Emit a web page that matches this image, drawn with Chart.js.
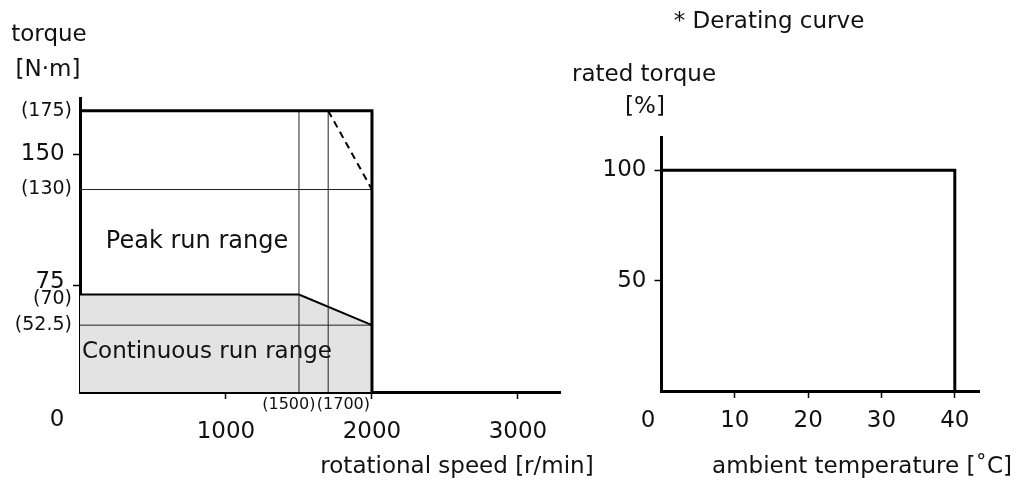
<!DOCTYPE html>
<html>
<head>
<meta charset="utf-8">
<script src="https://cdn.jsdelivr.net/npm/chart.js@4.4.1/dist/chart.umd.min.js"></script>
<style>
  body { margin: 0; background: #fff; }
  #wrap { position: relative; width: 1023px; height: 485px; }
  canvas { position: absolute; top: 0; }
  #torqueChart { left: 0; }
  #deratingChart { left: 560px; }
</style>
</head>
<body>
<div id="wrap">
  <canvas id="torqueChart" width="600" height="485"></canvas>
  <canvas id="deratingChart" width="463" height="485"></canvas>
</div>
<script>
// speed / torque chart
const speedMajor = [1000, 2000, 3000];
const speedNoted = [1500, 1700];
const torqueMajor = [75, 150];
const torqueNoted = [52.5, 70, 130, 175];

const contSpeed = [0, 1500, 2000];
const contTorque = [70, 70, 52.5];
const boxSpeed = [0, 2000, 2000];
const boxTorque = [175, 175, 0];
const dashSpeed = [1700, 2000];
const dashTorque = [175, 130];

// derating curve
const tempTicks = [10, 20, 30, 40];
const pctTicks = [50, 100];
const deratingTemp = [0, 40, 40];
const deratingPct = [100, 100, 0];

const INK = '#111';
Chart.defaults.font.family = '"DejaVu Sans", sans-serif';
Chart.defaults.color = INK;
Chart.defaults.elements.point.radius = 0;
Chart.defaults.elements.line.tension = 0;

const pts = (xs, ys) => xs.map((x, i) => ({ x: x, y: ys[i] }));
const last = a => a[a.length - 1];
const hidden = 'rgba(0,0,0,0)';

// free text drawn on top (axis captions, region names)
const textPlugin = {
    id: 'texts',
    afterDraw(chart, args, opts) {
        const ctx = chart.ctx;
        ctx.save();
        ctx.fillStyle = INK;
        ctx.textAlign = 'center';
        ctx.textBaseline = 'middle';
        opts.items.forEach(t => {
            ctx.font = (t.size || 23) + 'px "DejaVu Sans"';
            ctx.fillText(t.text, t.x, t.y);
        });
        ctx.restore();
    }
};

const isMajor = (list, c) => c.tick && list.includes(c.tick.value);

const maxTorque = Math.max(...boxTorque);
const edgeSpeed = last(boxSpeed);

// thin guide lines at the bracketed values
const guides = [
    ...speedNoted.map(s => pts([s, s], [0, maxTorque])),
    pts([0, edgeSpeed], [last(dashTorque), last(dashTorque)]),
    pts([0, edgeSpeed], [last(contTorque), last(contTorque)])
].map(d => ({ data: d, borderColor: '#222', borderWidth: 1, order: 5 }));

// 75 and (70) sit too close on the axis: push their labels apart a little (px of line height)
const nudgeUp = { 75: 8 };
const nudgeDown = { 70: 9 };

new Chart(document.getElementById('torqueChart'), {
    type: 'line',
    data: {
        datasets: [
            { data: pts(contSpeed, contTorque), fill: 'start', backgroundColor: '#e3e3e3',
              borderColor: '#000', borderWidth: 2, order: 10 },
            ...guides,
            { data: pts(boxSpeed, boxTorque), borderColor: '#000', borderWidth: 3, order: 1 },
            { data: pts(dashSpeed, dashTorque), borderColor: '#000', borderWidth: 2,
              borderDash: [7, 5], order: 1 }
        ]
    },
    options: {
        responsive: false,
        animation: false,
        devicePixelRatio: 1,
        layout: { padding: { top: 98, right: 40, left: 0, bottom: 0 } },
        plugins: {
            legend: { display: false },
            tooltip: { enabled: false },
            texts: { items: [
                { text: 'torque', x: 49, y: 35 },
                { text: '[N·m]', x: 48, y: 70 },
                { text: 'Peak run range', x: 197, y: 242, size: 24 },
                { text: 'Continuous run range', x: 207, y: 352 },
                { text: 'rotational speed [r/min]', x: 457, y: 467 },
                { text: '0', x: 57, y: 420 }
            ] }
        },
        scales: {
            x: {
                type: 'linear', min: 0, max: 3288,
                afterFit: s => { s.height = 93; },
                afterBuildTicks: s => {
                    s.ticks = [...speedMajor, ...speedNoted].sort((a, b) => a - b).map(v => ({ value: v }));
                },
                border: { color: '#000', width: 3 },
                grid: { drawOnChartArea: false, tickLength: 7, tickWidth: 1.5,
                        tickColor: c => isMajor(speedMajor, c) ? '#000' : hidden },
                ticks: {
                    autoSkip: false, maxRotation: 0, minRotation: 0, padding: 0,
                    font: c => isMajor(speedMajor, c) ? { size: 23, lineHeight: 2.87 } : { size: 16, lineHeight: 0.75 },
                    callback: v => {
                        if (speedMajor.includes(v)) return String(v);
                        // push the two bracketed labels apart so they sit side by side
                        return v === speedNoted[0] ? '(' + v + ')    ' : '      (' + v + ')';
                    }
                }
            },
            y: {
                type: 'linear', min: 14.3, max: 182.3,
                afterFit: s => { s.width = 80; },
                afterBuildTicks: s => {
                    s.ticks = [...torqueMajor, ...torqueNoted].sort((a, b) => a - b).map(v => ({ value: v }));
                },
                border: { color: '#000', width: 3 },
                grid: { drawOnChartArea: false, tickLength: 7, tickWidth: 1.5,
                        tickColor: c => isMajor(torqueMajor, c) ? '#000' : hidden },
                ticks: {
                    padding: 1,
                    font: c => {
                        const v = c.tick ? c.tick.value : null;
                        const size = isMajor(torqueMajor, c) ? 23 : 19;
                        if (nudgeUp[v]) return { size: size, lineHeight: nudgeUp[v] + 'px' };
                        if (nudgeDown[v]) return { size: size, lineHeight: nudgeDown[v] + 'px' };
                        return { size: size };
                    },
                    callback: v => {
                        const txt = torqueMajor.includes(v) ? v + ' ' : '(' + v + ')';
                        if (nudgeUp[v]) return [txt, ''];
                        if (nudgeDown[v]) return ['', txt];
                        return txt;
                    }
                }
            }
        }
    },
    plugins: [textPlugin]
});

new Chart(document.getElementById('deratingChart'), {
    type: 'line',
    data: {
        datasets: [
            { data: pts(deratingTemp, deratingPct), borderColor: '#000', borderWidth: 3 }
        ]
    },
    options: {
        responsive: false,
        animation: false,
        devicePixelRatio: 1,
        layout: { padding: { top: 137, right: 44, left: 0, bottom: 0 } },
        plugins: {
            legend: { display: false },
            tooltip: { enabled: false },
            texts: { items: [
                { text: '* Derating curve', x: 209, y: 22 },
                { text: 'rated torque', x: 84, y: 75 },
                { text: '[%]', x: 85, y: 107 },
                { text: 'ambient temperature [˚C]', x: 302, y: 467 },
                { text: '0', x: 88, y: 421 }
            ] }
        },
        scales: {
            x: {
                type: 'linear', min: 0, max: 43.3,
                afterFit: s => { s.height = 94; },
                afterBuildTicks: s => { s.ticks = tempTicks.map(v => ({ value: v })); },
                border: { color: '#000', width: 3 },
                grid: { drawOnChartArea: false, tickLength: 7, tickWidth: 1.5, tickColor: '#000' },
                ticks: { autoSkip: false, maxRotation: 0, padding: 9, font: { size: 23, lineHeight: 1.2 } }
            },
            y: {
                type: 'linear', min: 0, max: 115,
                afterFit: s => { s.width = 101.5; },
                afterBuildTicks: s => { s.ticks = pctTicks.map(v => ({ value: v })); },
                border: { color: '#000', width: 3 },
                grid: { drawOnChartArea: false, tickLength: 7, tickWidth: 1.5, tickColor: '#000' },
                ticks: { padding: 8, font: { size: 23 } }
            }
        }
    },
    plugins: [textPlugin]
});
</script>
</body>
</html>
